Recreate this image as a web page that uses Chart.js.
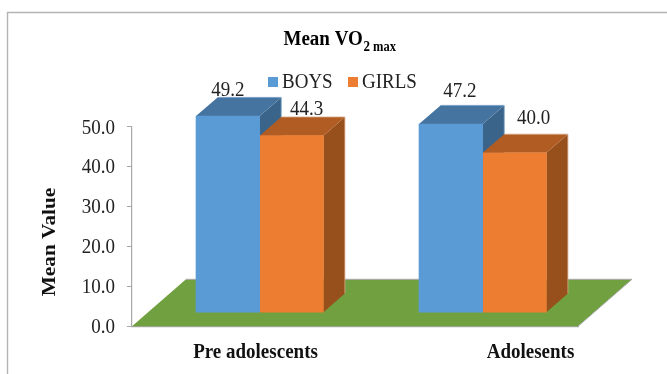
<!DOCTYPE html>
<html>
<head>
<meta charset="utf-8">
<script src="https://cdn.jsdelivr.net/npm/chart.js@4/dist/chart.umd.min.js"></script>
<style>
  html, body { margin: 0; background: #fff; }
  canvas { display: block; }
</style>
</head>
<body>
<canvas id="myChart" width="667" height="374"></canvas>
<script>
const categories = ['Pre adolescents', 'Adolesents'];
const boysValues = [49.2, 47.2];
const girlsValues = [44.3, 40.0];
const seriesNames = ['BOYS', 'GIRLS'];
const yTicks = [0, 10, 20, 30, 40, 50];

const SERIF = '"Liberation Serif", serif';
const TALL = 1.12; // the type is drawn slightly taller than wide

// bars sit forward of the axis plane and have their own extrusion
const barShift = { x: 16.2, y: -13.6 };
const barDepth = { x: 21.5, y: -18.7 };
const floorDepth = { x: 54, y: -47 };

// hand placed value labels, relative to the middle of the front face top
const labelNudge = [
    [{ x: 0, y: -27 }, { x: 9, y: -34 }],
    [{ x: 15, y: -28 }, { x: 19, y: -36 }]
];
const categoryLabelX = [255.5, 530.5];

const sideColors = ['#3b648a', '#97501c'];
const topColors = ['#4674a0', '#b15c22'];
const edgeColors = ['#6f9cc4', '#d9a886'];

function polygon(ctx, pts, fill) {
    ctx.beginPath();
    pts.forEach((p, i) => (i ? ctx.lineTo(p[0], p[1]) : ctx.moveTo(p[0], p[1])));
    ctx.closePath();
    ctx.fillStyle = fill;
    ctx.fill();
}

function polyline(ctx, pts, color, width) {
    ctx.beginPath();
    pts.forEach((p, i) => (i ? ctx.lineTo(p[0], p[1]) : ctx.moveTo(p[0], p[1])));
    ctx.strokeStyle = color;
    ctx.lineWidth = width;
    ctx.stroke();
}

function text(ctx, str, x, y, font, color, align) {
    ctx.save();
    ctx.translate(x, y);
    ctx.scale(1, TALL);
    ctx.font = font;
    ctx.fillStyle = color;
    ctx.textAlign = align || 'center';
    ctx.textBaseline = 'alphabetic';
    ctx.fillText(str, 0, 0);
    ctx.restore();
}

const pseudo3d = {
    id: 'pseudo3d',
    // move the bars off the axis plane, the y scale itself stays true
    afterDatasetsUpdate(chart) {
        chart.data.datasets.forEach((_, i) => {
            chart.getDatasetMeta(i).data.forEach(bar => {
                bar.x += barShift.x;
                bar.y += barShift.y;
                bar.base += barShift.y;
            });
        });
    },
    beforeDraw(chart) {
        // thin page frame, open on the right and at the bottom
        const ctx = chart.ctx;
        ctx.save();
        polyline(ctx, [[7.5, 374], [7.5, 12.5], [667, 12.5]], '#b4b4b4', 1.4);
        ctx.restore();
    },
    beforeDatasetsDraw(chart) {
        const ctx = chart.ctx;
        const { x, y } = chart.scales;
        const y0 = y.getPixelForValue(0);
        const backY = y0 + floorDepth.y;
        ctx.save();
        polygon(ctx, [
            [x.left, y0],
            [x.right, y0],
            [x.right + floorDepth.x, backY],
            [x.left + floorDepth.x, backY]
        ], '#70a03f');
        polyline(ctx, [
            [x.left + floorDepth.x, backY],
            [x.right + floorDepth.x, backY],
            [x.right, y0]
        ], '#a9a9a9', 1);

        chart.data.datasets.forEach((_, i) => {
            chart.getDatasetMeta(i).data.forEach(bar => {
                const l = bar.x - bar.width / 2;
                const r = bar.x + bar.width / 2;
                polygon(ctx, [
                    [r, bar.y],
                    [r + barDepth.x, bar.y + barDepth.y],
                    [r + barDepth.x, bar.base + barDepth.y],
                    [r, bar.base]
                ], sideColors[i]);
                polygon(ctx, [
                    [l, bar.y],
                    [r, bar.y],
                    [r + barDepth.x, bar.y + barDepth.y],
                    [l + barDepth.x, bar.y + barDepth.y]
                ], topColors[i]);
                // pale rim along the back of the block
                polyline(ctx, [
                    [l + barDepth.x, bar.y + barDepth.y],
                    [r + barDepth.x, bar.y + barDepth.y],
                    [r + barDepth.x, bar.base + barDepth.y]
                ], edgeColors[i], 0.8);
            });
        });
        ctx.restore();
    },
    afterDraw(chart) {
        const ctx = chart.ctx;
        const yScale = chart.scales.y;
        ctx.save();

        // title with the subscript run
        const bold = size => `bold ${size}px ${SERIF}`;
        text(ctx, 'Mean VO', 283.5, 45, bold(19), '#000', 'left');
        text(ctx, '2', 363.5, 50.5, bold(13), '#000', 'left');
        text(ctx, 'max', 373, 50.5, bold(12.5), '#000', 'left');

        // legend
        const legendX = [268, 348];
        chart.data.datasets.forEach((ds, i) => {
            ctx.fillStyle = ds.backgroundColor;
            ctx.fillRect(legendX[i], 77, 10, 10);
            text(ctx, ds.label, legendX[i] + 14, 88, `19px ${SERIF}`, '#222', 'left');
        });

        // value labels
        chart.data.datasets.forEach((ds, i) => {
            chart.getDatasetMeta(i).data.forEach((bar, j) => {
                const n = labelNudge[i][j];
                text(ctx, ds.data[j].toFixed(1), bar.x + n.x, bar.y + n.y + 7, `19px ${SERIF}`, '#222');
            });
        });

        // y tick labels
        yTicks.forEach(v => {
            text(ctx, v.toFixed(1), 115, yScale.getPixelForValue(v) + 7, `19px ${SERIF}`, '#222', 'right');
        });

        // category labels
        categories.forEach((c, i) => {
            text(ctx, c, categoryLabelX[i], 358, bold(19), '#111');
        });

        // y axis title, stretched along its reading direction once rotated
        ctx.translate(55, 242);
        ctx.rotate(-Math.PI / 2);
        ctx.scale(TALL, 1 / TALL);
        text(ctx, 'Mean Value', 0, 0, bold(19), '#111');
        ctx.restore();
    }
};

new Chart(document.getElementById('myChart').getContext('2d'), {
    type: 'bar',
    data: {
        labels: categories,
        datasets: [
            { label: seriesNames[0], data: boysValues, backgroundColor: '#5b9bd5' },
            { label: seriesNames[1], data: girlsValues, backgroundColor: '#ed7d31' }
        ]
    },
    options: {
        responsive: false,
        animation: false,
        layout: { padding: { top: 126.5, right: 89, bottom: 39.7, left: 0 } },
        datasets: { bar: { barThickness: 63.7, clip: false, borderWidth: 0 } },
        plugins: {
            legend: { display: false },
            title: { display: false },
            tooltip: { enabled: false }
        },
        scales: {
            x: {
                grid: { display: false },
                border: { color: '#a8a8a8', width: 1.2 },
                ticks: { display: false }
            },
            y: {
                min: 0,
                max: 50,
                afterFit: scale => { scale.width = 132; },
                afterBuildTicks: scale => { scale.ticks = yTicks.map(value => ({ value })); },
                grid: { drawOnChartArea: false, color: '#a8a8a8', tickLength: 5 },
                border: { color: '#a8a8a8', width: 1.2 },
                ticks: { display: false }
            }
        }
    },
    plugins: [pseudo3d]
});
</script>
</body>
</html>
